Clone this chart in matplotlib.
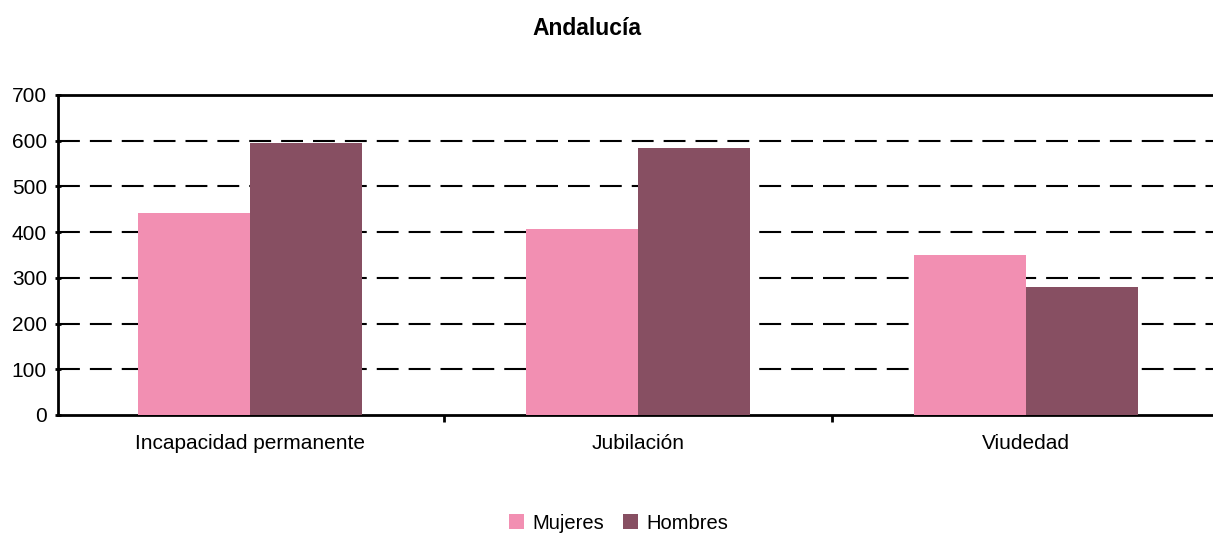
"""Andalucía: Mujeres vs Hombres por tipo de pensión."""

import matplotlib

matplotlib.use("Agg")

import matplotlib.pyplot as plt  # noqa: E402
import numpy as np  # noqa: E402

categories = ["Incapacidad permanente", "Jubilación", "Viudedad"]
mujeres = [442, 407, 350]
hombres = [595, 584, 280]
y_ticks = [0, 100, 200, 300, 400, 500, 600, 700]

plt.rcParams["font.family"] = ["Liberation Sans", "DejaVu Sans"]

fig = plt.figure(figsize=(12.13, 5.35), dpi=100)
W, H = 1213, 535
left, right, top, bottom = 58, 1213, 95, 415
ax = fig.add_axes([left / W, 1 - bottom / H, (right - left) / W, (bottom - top) / H])

x = np.arange(len(categories))
bw = 0.288
ax.bar(x - bw / 2, mujeres, bw, color="#f28fb2", label="Mujeres", zorder=3)
ax.bar(x + bw / 2, hombres, bw, color="#874f62", label="Hombres", zorder=3)

for v in y_ticks[1:-1]:
    ax.axhline(v, color="black", lw=1.5, dashes=(10.5, 4.8), zorder=1)

ax.set_ylim(0, 700)
ax.set_xlim(-0.495, -0.495 + (right - left) / 388)
ax.set_yticks(y_ticks)
ax.set_xticks(x)
ax.set_xticklabels(categories, fontsize=15)
ax.tick_params(axis="x", length=0, pad=14)
ax.set_xticks([0.5, 1.5], minor=True)
ax.tick_params(axis="x", which="minor", length=5, width=2, direction="out")
ax.tick_params(axis="y", labelsize=15, length=5, width=2, direction="inout", pad=5.5)

for s in ("left", "bottom", "top"):
    ax.spines[s].set_linewidth(2)
    ax.spines[s].set_color("black")
ax.spines["right"].set_visible(False)

fig.suptitle("Andalucía", x=0.484, y=0.968, fontsize=16.5, fontweight="bold")
fig.legend(loc="center", bbox_to_anchor=(0.51, 0.022), ncol=2, frameon=False,
           fontsize=14.5, handlelength=0.75, handleheight=0.75, handletextpad=0.45,
           columnspacing=0.9)

fig.savefig("out.png", dpi=100)
